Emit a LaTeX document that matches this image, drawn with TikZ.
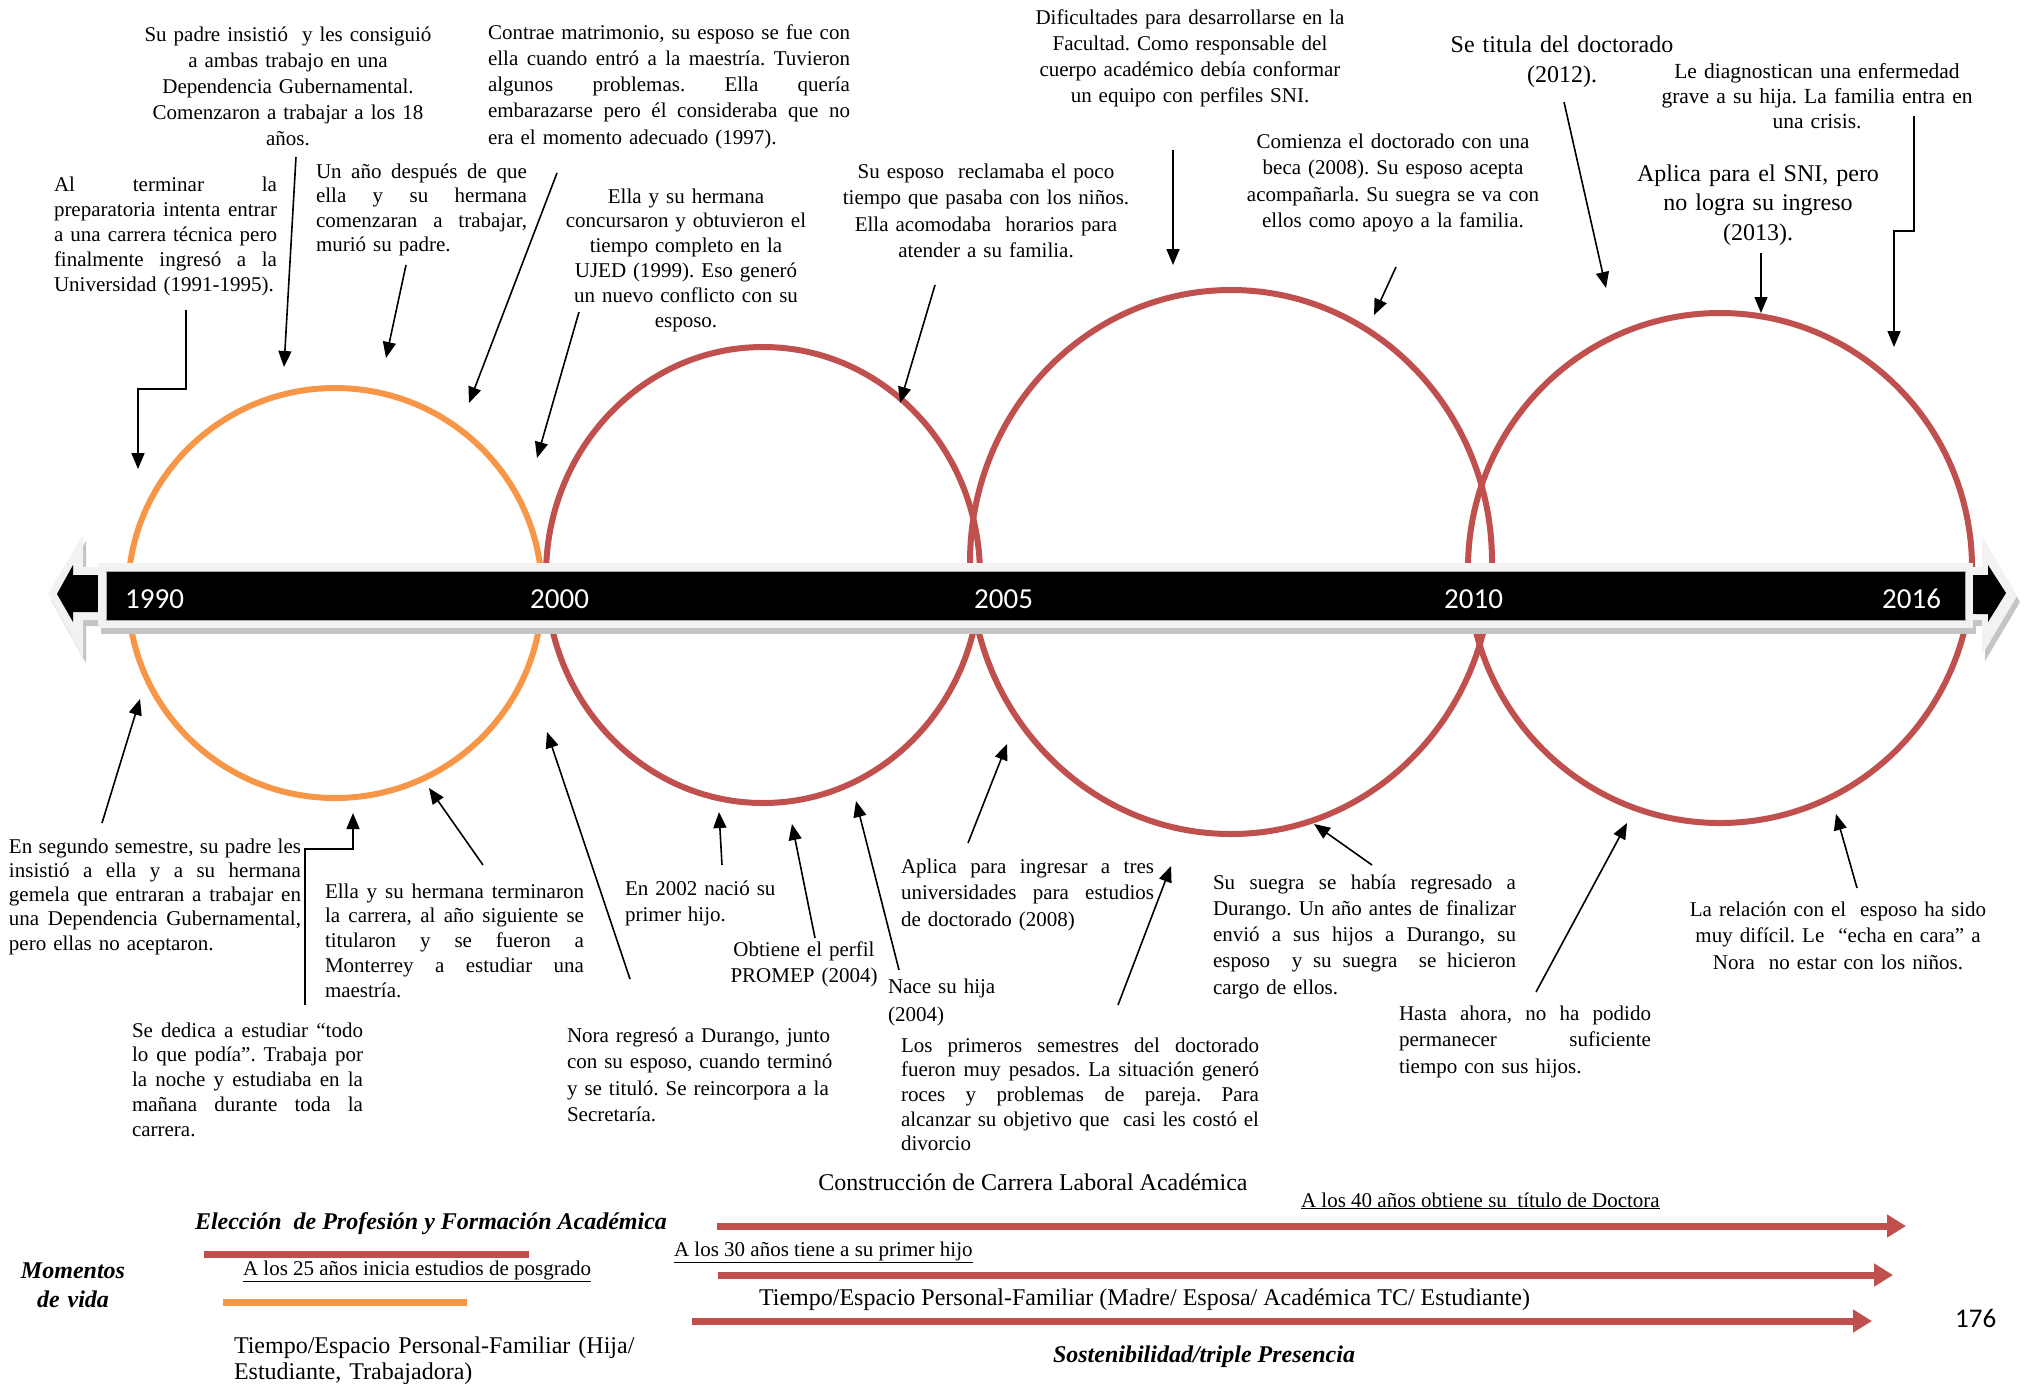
\documentclass[tikz,border=0pt]{standalone}
\usepackage{fontspec}
\setmainfont{Liberation Serif}
\newfontfamily\calibri{Carlito}
\usetikzlibrary{arrows.meta}
\definecolor{lifeorange}{HTML}{F79646}
\definecolor{lifered}{HTML}{C0504D}
\definecolor{framegray}{HTML}{F2F2F2}
\definecolor{shadegray}{HTML}{C4C4C4}
% one fully justified line, spread over the current block width \jw
\newlength{\jw}
\newcommand{\jline}[1]{\leavevmode\hbox to \jw{\spaceskip=0.25em plus 1fil\relax #1}}
\frenchspacing

\begin{document}
\begin{tikzpicture}[x=1pt,y=-1pt,
  txt/.style={inner sep=0pt,outer sep=0pt,font=\fontsize{21}{#1}\selectfont},
  txt/.default=26,
  bigtxt/.style={inner sep=0pt,outer sep=0pt,font=\fontsize{24}{#1}\selectfont},
  bigtxt/.default=30,
  boldtxt/.style={inner sep=0pt,outer sep=0pt,font=\fontsize{24}{29}\selectfont\bfseries\itshape},
  just/.style={align=left,anchor=base west,text width=#1,execute at begin node={\setlength{\jw}{#1}}},
  ctr/.style={align=center,anchor=base,text width=440},
  lft/.style={align=left,anchor=base west,text width=360},
  conn/.style={line width=1.6pt,-{Triangle[length=16pt,width=13pt]}},
  phase/.style={line width=7pt,lifered,-{Triangle[length=19pt,width=22pt]}},
  ring/.style={line width=6pt},
  year/.style={inner sep=0pt,anchor=base west,text=white,font=\calibri\fontsize{29}{29}\selectfont}
]
\useasboundingbox (0,0) rectangle (2025,1385);

% ---- life-stage rings ----
\draw[ring,lifeorange] (335,593) ellipse [x radius=207,y radius=205];
\draw[ring,lifered] (763,575) ellipse [x radius=217,y radius=228];
\draw[ring,lifered] (1231,562) ellipse [x radius=261,y radius=272];
\draw[ring,lifered] (1720,568) ellipse [x radius=252,y radius=255];

% ---- timeline double arrow ----
\begin{scope}[shift={(3,6)}]
  \fill[shadegray] (48,594) -- (83,535) -- (83,567) -- (1982,567) -- (1982,536)
    -- (2017,596) -- (1982,655) -- (1982,620) -- (83,620) -- (83,657) -- cycle;
  \fill[shadegray] (98,563) rectangle (1973,628);
\end{scope}
\fill[framegray] (48,594) -- (83,535) -- (83,567) -- (1982,567) -- (1982,536)
  -- (2017,596) -- (1982,655) -- (1982,620) -- (83,620) -- (83,657) -- cycle;
\fill[black] (57,594) -- (73,565) -- (73,575) -- (1988,575) -- (1988,565)
  -- (2006,593) -- (1988,622) -- (1988,614) -- (73,612) -- (73,622) -- cycle;
\fill[framegray] (98,563) rectangle (1973,628);
\fill[black] (106,571) rectangle (1965,620);
\draw[gray!70,line width=1pt] (106,571) rectangle (1965,620);

\node[year] (y1990) at (125,608) {1990};
\node[year] (y2000) at (530,608) {2000};
\node[year] (y2005) at (974,608) {2005};
\node[year] (y2010) at (1444,608) {2010};
\node[year] (y2016) at (1882,608) {2016};

% ---- events above the timeline ----
\node[txt,ctr] (t1) at (288,41) {Su padre insistió~ y les consiguió\\ a ambas trabajo en una\\ Dependencia Gubernamental.\\ Comenzaron a trabajar a los 18\\ años.};
\node[txt=25,just=223pt] (t2) at (54,191) {\jline{Al terminar la}\\
\jline{preparatoria intenta entrar}\\
\jline{a una carrera técnica pero}\\
\jline{finalmente ingresó a la}\\
Universidad (1991-1995).};
\node[txt=24.6,just=211pt] (t3) at (316,178) {\jline{Un año después de que}\\
\jline{ella y su hermana}\\
\jline{comenzaran a trabajar,}\\
murió su padre.};
\node[txt=26.3,just=362pt] (t4) at (488,39) {\jline{Contrae matrimonio, su esposo se fue con}\\
\jline{ella cuando entró a la maestría. Tuvieron}\\
\jline{algunos problemas. Ella quería}\\
\jline{embarazarse pero él consideraba que no}\\
era el momento adecuado (1997).};
\node[txt=24.8,ctr] (t5) at (686,203) {Ella y su hermana\\ concursaron y obtuvieron el\\ tiempo completo en la\\ UJED (1999). Eso generó\\ un nuevo conflicto con su\\ esposo.};
\node[txt=26.5,ctr] (t6) at (986,178) {Su esposo~ reclamaba el poco\\ tiempo que pasaba con los niños.\\ Ella acomodaba~ horarios para\\ atender a su familia.};
\node[txt=26.3,ctr] (t7) at (1190,24) {Dificultades para desarrollarse en la\\ Facultad. Como responsable del\\ cuerpo académico debía conformar\\ un equipo con perfiles SNI.};
\node[txt=26.5,ctr] (t8) at (1393,148) {Comienza el doctorado con una\\ beca (2008). Su esposo acepta\\ acompañarla. Su suegra se va con\\ ellos como apoyo a la familia.};
\node[bigtxt,ctr] (t9) at (1562,52) {Se titula del doctorado\\ (2012).};
\node[inner sep=0pt,font=\fontsize{21.5}{25}\selectfont,ctr] (t10) at (1817,78) {Le diagnostican una enfermedad\\ grave a su hija. La familia entra en\\ una crisis.};
\node[bigtxt=29.5,ctr] (t11) at (1758,181) {Aplica para el SNI, pero\\ no logra su ingreso\\ (2013).};

% ---- events below the timeline ----
\node[txt=24.3,just=292pt] (b1) at (9,853) {\jline{En segundo semestre, su padre les}\\
\jline{insistió a ella y a su hermana}\\
\jline{gemela que entraran a trabajar en}\\
\jline{una Dependencia Gubernamental,}\\
pero ellas no aceptaron.};
\node[txt=24.8,just=259pt] (b2) at (325,898) {\jline{Ella y su hermana terminaron}\\
\jline{la carrera, al año siguiente se}\\
\jline{titularon y se fueron a}\\
\jline{Monterrey a estudiar una}\\
maestría.};
\node[txt=24.8,just=231pt] (b3) at (132,1037) {\jline{Se dedica a estudiar “todo}\\
\jline{lo que podía”. Trabaja por}\\
\jline{la noche y estudiaba en la}\\
\jline{mañana durante toda la}\\
carrera.};
\node[txt,lft] (b4) at (625,895) {En 2002 nació su\\ primer hijo.};
\node[txt=26.5,ctr] (b5) at (804,956) {Obtiene el perfil\\ PROMEP (2004)};
\node[txt=28,lft] (b6) at (888,993) {Nace su hija\\ (2004)};
\node[txt=26.5,lft] (b7) at (567,1042) {Nora regresó a Durango, junto\\ con su esposo, cuando terminó\\ y se tituló. Se reincorpora a la\\ Secretaría.};
\node[txt=26.5,just=253pt] (b8) at (901,873) {\jline{Aplica para ingresar a tres}\\
\jline{universidades para estudios}\\
de doctorado (2008)};
\node[txt=24.7,just=358pt] (b9) at (901,1052) {\jline{Los primeros semestres del doctorado}\\
\jline{fueron muy pesados. La situación generó}\\
\jline{roces y problemas de pareja. Para}\\
\jline{alcanzar su objetivo que~ casi les costó el}\\
divorcio};
\node[txt=26.3,just=303pt] (b10) at (1213,889) {\jline{Su suegra se había regresado a}\\
\jline{Durango. Un año antes de finalizar}\\
\jline{envió a sus hijos a Durango, su}\\
\jline{esposo~ y su suegra~ se hicieron}\\
cargo de ellos.};
\node[txt=26.5,just=252pt] (b11) at (1399,1020) {\jline{Hasta ahora, no ha podido}\\
\jline{permanecer suficiente}\\
tiempo con sus hijos.};
\node[txt=26.5,ctr] (b12) at (1838,916) {La relación con el~ esposo ha sido\\ muy difícil. Le~ “echa en cara” a\\ Nora~ no estar con los niños.};

% ---- connector end points ----
\coordinate (a1) at (186,310); \coordinate (a2) at (186,389);
\coordinate (a3) at (138,389); \coordinate (a4) at (138,469);
\coordinate (b1s) at (296,157); \coordinate (b1e) at (284,367);
\coordinate (c1s) at (406,265); \coordinate (c1e) at (386,358);
\coordinate (d1s) at (557,173); \coordinate (d1e) at (469,403);
\coordinate (e1s) at (579,312); \coordinate (e1e) at (537,458);
\coordinate (f1s) at (935,285); \coordinate (f1e) at (900,403);
\coordinate (g1s) at (1173,150); \coordinate (g1e) at (1173,265);
\coordinate (h1s) at (1396,267); \coordinate (h1e) at (1374,315);
\coordinate (i1s) at (1564,102); \coordinate (i1e) at (1606,288);
\coordinate (j1s) at (1761,253); \coordinate (j1e) at (1761,313);
\coordinate (k1) at (1914,116); \coordinate (k2) at (1914,231);
\coordinate (k3) at (1894,231); \coordinate (k4) at (1894,347);
\coordinate (l1s) at (102,823); \coordinate (l1e) at (140,699);
\coordinate (m1) at (305,1005); \coordinate (m2) at (305,849);
\coordinate (m3) at (353,849); \coordinate (m4) at (353,813);
\coordinate (n1s) at (483,865); \coordinate (n1e) at (429,788);
\coordinate (o1s) at (630,979); \coordinate (o1e) at (547,732);
\coordinate (p1s) at (722,865); \coordinate (p1e) at (719,812);
\coordinate (q1s) at (815,938); \coordinate (q1e) at (792,824);
\coordinate (r1s) at (899,970); \coordinate (r1e) at (856,801);
\coordinate (s1s) at (968,843); \coordinate (s1e) at (1007,744);
\coordinate (u1s) at (1118,1005); \coordinate (u1e) at (1171,866);
\coordinate (v1s) at (1372,865); \coordinate (v1e) at (1314,824);
\coordinate (w1s) at (1536,992); \coordinate (w1e) at (1627,823);
\coordinate (z1s) at (1857,888); \coordinate (z1e) at (1836,814);

% ---- connectors ----
\draw[conn] (a1) -- (a2) -- (a3) -- (a4);
\draw[conn] (b1s) -- (b1e);
\draw[conn] (c1s) -- (c1e);
\draw[conn] (d1s) -- (d1e);
\draw[conn] (e1s) -- (e1e);
\draw[conn] (f1s) -- (f1e);
\draw[conn] (g1s) -- (g1e);
\draw[conn] (h1s) -- (h1e);
\draw[conn] (i1s) -- (i1e);
\draw[conn] (j1s) -- (j1e);
\draw[conn] (k1) -- (k2) -- (k3) -- (k4);
\draw[conn] (l1s) -- (l1e);
\draw[conn] (m1) -- (m2) -- (m3) -- (m4);
\draw[conn] (n1s) -- (n1e);
\draw[conn] (o1s) -- (o1e);
\draw[conn] (p1s) -- (p1e);
\draw[conn] (q1s) -- (q1e);
\draw[conn] (r1s) -- (r1e);
\draw[conn] (s1s) -- (s1e);
\draw[conn] (u1s) -- (u1e);
\draw[conn] (v1s) -- (v1e);
\draw[conn] (w1s) -- (w1e);
\draw[conn] (z1s) -- (z1e);

% ---- legend of life moments ----
\node[boldtxt,anchor=base west] (elec) at (195,1229) {Elección~ de Profesión y Formación Académica};
\node[boldtxt,align=center,anchor=base,text width=200] (mom) at (73,1278) {Momentos\\ de vida};
\node[txt,anchor=base west] (pos25) at (243,1275) {\underline{A los 25 años inicia estudios de posgrado}};
\node[bigtxt=26,lft,text width=420] (hija) at (234,1353) {Tiempo/Espacio Personal-Familiar (Hija/\\ Estudiante, Trabajadora)};
\coordinate (rb1) at (204,1254); \coordinate (rb2) at (529,1254);
\coordinate (ob1) at (223,1302); \coordinate (ob2) at (467,1302);
\draw[line width=7pt,lifered] (rb1) -- (rb2);
\draw[line width=7pt,lifeorange] (ob1) -- (ob2);

\node[bigtxt,anchor=base] (carr) at (1033,1190) {Construcción de Carrera Laboral Académica};
\node[txt,anchor=base west] (doc40) at (1301,1207) {\underline{A los 40 años obtiene su~ título de Doctora}};
\node[txt,anchor=base west] (hijo30) at (674,1256) {\underline{A los 30 años tiene a su primer hijo}};
\node[bigtxt,anchor=base west] (madre) at (759,1305) {Tiempo/Espacio Personal-Familiar (Madre/ Esposa/ Académica TC/ Estudiante)};
\node[boldtxt,anchor=base] (sost) at (1204,1362) {Sostenibilidad/triple Presencia};
\coordinate (pa1) at (717,1226); \coordinate (pa2) at (1906,1226);
\coordinate (pb1) at (718,1275); \coordinate (pb2) at (1893,1275);
\coordinate (pc1) at (692,1321); \coordinate (pc2) at (1872,1321);
\draw[phase] (pa1) -- (pa2);
\draw[phase] (pb1) -- (pb2);
\draw[phase] (pc1) -- (pc2);

\node[inner sep=0pt,anchor=base west,font=\calibri\fontsize{27}{27}\selectfont] (page) at (1955,1327) {176};
\end{tikzpicture}
\end{document}
